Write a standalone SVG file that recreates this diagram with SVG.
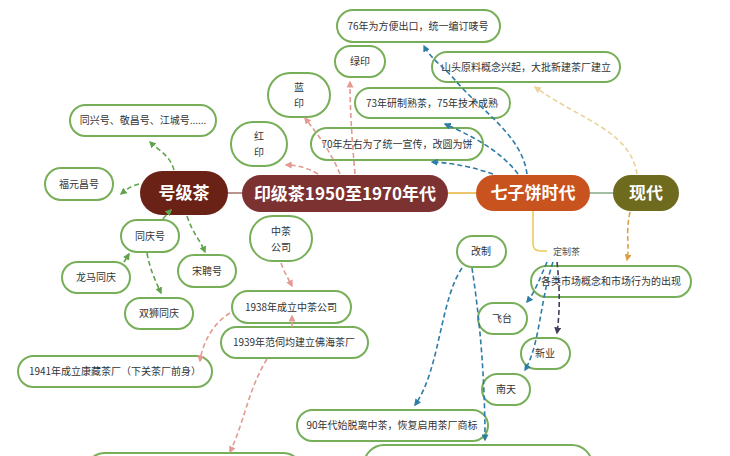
<svg xmlns="http://www.w3.org/2000/svg" width="730" height="456" viewBox="0 0 730 456">
<style>
.n rect{fill:#fff;stroke:#77ae58;stroke-width:2}
.n text{font-family:"Noto Sans CJK SC","Noto Sans",sans-serif;font-size:10px;fill:#333;text-anchor:middle}
.m text{font-family:"Noto Sans CJK SC","Noto Sans",sans-serif;font-size:17px;font-weight:bold;fill:#fff;text-anchor:middle}
.d{fill:none;stroke-width:1.6;stroke-dasharray:5 3}
.g{stroke:#5fa34a;marker-end:url(#ag)}
.p{stroke:#e39a92;marker-end:url(#ap)}
.b{stroke:#2f7ca6;marker-end:url(#ab)}
.k{stroke:#3d3d5c;marker-end:url(#ak)}
.o{stroke:#e0a040;marker-end:url(#ao)}
.y{stroke:#ead39a;marker-end:url(#ay)}
</style>
<defs>
<marker id="ag" viewBox="0 0 10 10" refX="8" refY="5" markerWidth="7" markerHeight="7" markerUnits="userSpaceOnUse" orient="auto"><path d="M0,0L10,5L0,10z" fill="#5fa34a"/></marker>
<marker id="ap" viewBox="0 0 10 10" refX="8" refY="5" markerWidth="7" markerHeight="7" markerUnits="userSpaceOnUse" orient="auto"><path d="M0,0L10,5L0,10z" fill="#e39a92"/></marker>
<marker id="ab" viewBox="0 0 10 10" refX="8" refY="5" markerWidth="7" markerHeight="7" markerUnits="userSpaceOnUse" orient="auto"><path d="M0,0L10,5L0,10z" fill="#2f7ca6"/></marker>
<marker id="ak" viewBox="0 0 10 10" refX="8" refY="5" markerWidth="7" markerHeight="7" markerUnits="userSpaceOnUse" orient="auto"><path d="M0,0L10,5L0,10z" fill="#3d3d5c"/></marker>
<marker id="ao" viewBox="0 0 10 10" refX="8" refY="5" markerWidth="7" markerHeight="7" markerUnits="userSpaceOnUse" orient="auto"><path d="M0,0L10,5L0,10z" fill="#e0a040"/></marker>
<marker id="ay" viewBox="0 0 10 10" refX="8" refY="5" markerWidth="7" markerHeight="7" markerUnits="userSpaceOnUse" orient="auto"><path d="M0,0L10,5L0,10z" fill="#ead39a"/></marker>
</defs>
<rect width="730" height="456" fill="#fff"/>
<g id="n-haoji" class="m"><rect x="140" y="171" width="88" height="44" rx="22" fill="#6b2216"/><text x="184" y="199">号级茶</text></g>
<g id="n-yinji" class="m"><rect x="242" y="175" width="206" height="37" rx="18.5" fill="#7d3232"/><text x="345" y="200">印级茶1950至1970年代</text></g>
<g id="n-qizi" class="m"><rect x="476" y="175" width="114" height="36" rx="18" fill="#c9531f"/><text x="533" y="199">七子饼时代</text></g>
<g id="n-xiandai" class="m"><rect x="613" y="175" width="66" height="36" rx="18" fill="#6e6a1e"/><text x="646" y="199">现代</text></g>
<g id="n-tongxing" class="n"><rect x="70" y="105" width="146" height="31" rx="15.5"/><text x="143" y="124">同兴号、敬昌号、江城号......</text></g>
<g id="n-fuyuan" class="n"><rect x="45" y="168" width="68" height="32" rx="16"/><text x="79" y="188">福元昌号</text></g>
<g id="n-tongqing" class="n"><rect x="121" y="220" width="58" height="32" rx="16"/><text x="150" y="240">同庆号</text></g>
<g id="n-longma" class="n"><rect x="62" y="262" width="68" height="31" rx="15.5"/><text x="96" y="281">龙马同庆</text></g>
<g id="n-songpin" class="n"><rect x="178" y="255" width="58" height="32" rx="16"/><text x="207" y="275">宋聘号</text></g>
<g id="n-shuangshi" class="n"><rect x="125" y="298" width="68" height="31" rx="15.5"/><text x="159" y="317">双狮同庆</text></g>
<g id="n-hongyin" class="n"><rect x="231" y="122" width="56" height="44" rx="22"/><text x="259" y="140">红</text><text x="259" y="156">印</text></g>
<g id="n-lanyin" class="n"><rect x="268" y="73" width="62" height="44" rx="22"/><text x="299" y="91">蓝</text><text x="299" y="107">印</text></g>
<g id="n-lvyin" class="n"><rect x="335" y="46" width="50" height="31" rx="15.5"/><text x="360" y="65">绿印</text></g>
<g id="n-76" class="n"><rect x="337" y="10" width="163" height="32" rx="16"/><text x="418" y="30">76年为方便出口，统一编订唛号</text></g>
<g id="n-shantou" class="n"><rect x="432" y="52" width="188" height="30" rx="15"/><text x="526" y="71">山头原料概念兴起，大批新建茶厂建立</text></g>
<g id="n-73" class="n"><rect x="355" y="88" width="155" height="30" rx="15"/><text x="432" y="107">73年研制熟茶，75年技术成熟</text></g>
<g id="n-70" class="n"><rect x="311" y="128" width="172" height="32" rx="16"/><text x="397" y="148">70年左右为了统一宣传，改圆为饼</text></g>
<g id="n-zhongcha" class="n"><rect x="250" y="216" width="62" height="45" rx="22.5"/><text x="281" y="235">中茶</text><text x="281" y="251">公司</text></g>
<g id="n-1938" class="n"><rect x="232" y="291" width="119" height="32" rx="16"/><text x="291" y="311">1938年成立中茶公司</text></g>
<g id="n-1939" class="n"><rect x="221" y="327" width="147" height="31" rx="15.5"/><text x="294" y="346">1939年范伺均建立佛海茶厂</text></g>
<g id="n-1941" class="n"><rect x="18" y="356" width="194" height="31" rx="15.5"/><text x="115" y="375">1941年成立康藏茶厂（下关茶厂前身）</text></g>
<g id="n-gaizhi" class="n"><rect x="457" y="236" width="49" height="31" rx="15.5"/><text x="481" y="255">改制</text></g>
<g id="n-dingzhi"><text x="553" y="255" font-family="'Noto Sans CJK SC','Noto Sans',sans-serif" font-size="9" fill="#555">定制茶</text></g>
<g id="n-shichang" class="n"><rect x="531" y="266" width="160" height="31" rx="15.5"/><text x="611" y="285">各类市场概念和市场行为的出现</text></g>
<g id="n-feitai" class="n"><rect x="478" y="303" width="49" height="31" rx="15.5"/><text x="502" y="322">飞台</text></g>
<g id="n-xinye" class="n"><rect x="521" y="338" width="49" height="31" rx="15.5"/><text x="545" y="357">新业</text></g>
<g id="n-nantian" class="n"><rect x="482" y="374" width="48" height="31" rx="15.5"/><text x="506" y="393">南天</text></g>
<g id="n-90" class="n"><rect x="297" y="410" width="191" height="31" rx="15.5"/><text x="392" y="429">90年代始脱离中茶，恢复启用茶厂商标</text></g>
<g id="n-bottom1" class="n"><rect x="364" y="445" width="228" height="40" rx="20"/></g>
<g id="n-bottom2" class="n"><rect x="85" y="453" width="218" height="40" rx="20"/></g>
<g id="connectors">
<line x1="228" y1="193" x2="242" y2="193" stroke="#a87a74" stroke-width="1.6"/>
<line x1="448" y1="193" x2="476" y2="193" stroke="#e8b648" stroke-width="1.6"/>
<line x1="590" y1="193" x2="613" y2="193" stroke="#8fae8c" stroke-width="1.6"/>
<path d="M533,211 L533,244 Q533,251 541,251 L547,251" fill="none" stroke="#eccb58" stroke-width="1.6"/>
<path class="d g" d="M174,170 C170,155 158,150 150,142"/>
<path class="d g" d="M139,184 C130,186 126,190 121,194"/>
<path class="d g" d="M163,219 C166,215 168,213 171,210"/>
<path class="d g" d="M187,216 C192,232 200,240 205,252"/>
<path class="d g" d="M124,262 L129,254"/>
<path class="d g" d="M147,253 C150,270 156,282 161,293"/>
<path class="d p" d="M318,174 C308,168 298,165 286,165"/>
<path class="d p" d="M340,174 C330,150 318,135 305,118"/>
<path class="d p" d="M355,174 C352,140 350,110 350,82"/>
<path class="d p" d="M281,263 C284,272 288,278 292,286"/>
<path class="d p" d="M292,327 L292,316"/>
<path class="d p" d="M230,313 C215,322 203,340 200,361"/>
<path class="d p" d="M267,359 C248,390 245,420 230,452"/>
<path class="d b" d="M527,174 C522,135 480,110 455,80 C445,68 430,58 424,46"/>
<path class="d b" d="M518,174 C500,150 470,135 445,124"/>
<path class="d b" d="M493,174 C475,168 455,163 432,162"/>
<path class="d b" d="M462,268 C440,300 440,370 415,405"/>
<path class="d b" d="M472,268 C480,320 485,380 485,440"/>
<path class="d b" d="M547,262 C540,278 535,292 527,302"/>
<path class="d b" d="M553,262 C540,300 540,345 525,370"/>
<path class="d k" d="M557,262 C560,290 560,310 557,333"/>
<path class="d o" d="M630,212 C625,235 630,245 627,260"/>
<path class="d y" d="M637,174 C630,130 580,120 535,87"/>
</g>
</svg>
